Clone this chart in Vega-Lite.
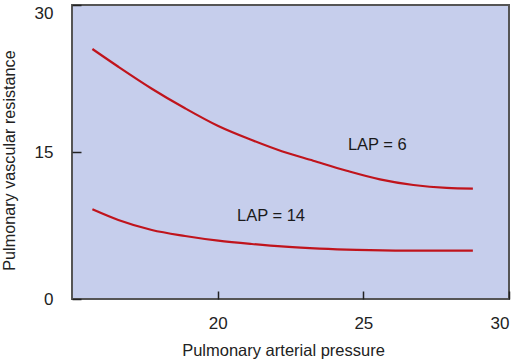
{
  "$schema": "https://vega.github.io/schema/vega-lite/v6.json",
  "width": 437,
  "height": 294,
  "autosize": {"type": "none"},
  "padding": {"left": 72, "top": 5, "right": 9, "bottom": 62},
  "background": "white",
  "config": {
    "view": {"fill": "#c6ceec", "stroke": "#555555", "strokeWidth": 2},
    "font": "Liberation Sans"
  },
  "datasets": {
    "curves": [
      {"lap": "6", "pap": 15.70, "pvr": 25.51},
      {"lap": "6", "pap": 16.59, "pvr": 23.70},
      {"lap": "6", "pap": 17.74, "pvr": 21.46},
      {"lap": "6", "pap": 18.88, "pvr": 19.46},
      {"lap": "6", "pap": 20.02, "pvr": 17.65},
      {"lap": "6", "pap": 21.17, "pvr": 16.22},
      {"lap": "6", "pap": 22.20, "pvr": 15.08},
      {"lap": "6", "pap": 23.28, "pvr": 14.11},
      {"lap": "6", "pap": 24.43, "pvr": 13.09},
      {"lap": "6", "pap": 25.57, "pvr": 12.21},
      {"lap": "6", "pap": 26.72, "pvr": 11.63},
      {"lap": "6", "pap": 27.86, "pvr": 11.33},
      {"lap": "6", "pap": 28.76, "pvr": 11.26},
      {"lap": "14", "pap": 15.70, "pvr": 9.15},
      {"lap": "14", "pap": 16.59, "pvr": 8.06},
      {"lap": "14", "pap": 17.74, "pvr": 7.04},
      {"lap": "14", "pap": 18.88, "pvr": 6.43},
      {"lap": "14", "pap": 20.02, "pvr": 5.95},
      {"lap": "14", "pap": 21.17, "pvr": 5.61},
      {"lap": "14", "pap": 22.31, "pvr": 5.34},
      {"lap": "14", "pap": 23.50, "pvr": 5.15},
      {"lap": "14", "pap": 24.77, "pvr": 5.02},
      {"lap": "14", "pap": 26.50, "pvr": 4.94},
      {"lap": "14", "pap": 28.76, "pvr": 4.93}
    ],
    "labels": [
      {"text": "LAP = 6", "pap": 25.48, "pvr": 15.7},
      {"text": "LAP = 14", "pap": 21.83, "pvr": 8.47}
    ]
  },
  "layer": [
    {
      "data": {"name": "curves"},
      "mark": {"type": "line", "color": "#c0141c", "strokeWidth": 2.2, "interpolate": "monotone"},
      "encoding": {
        "x": {
          "field": "pap", "type": "quantitative",
          "scale": {"domain": [15, 30], "nice": false},
          "axis": {
            "title": "Pulmonary arterial pressure",
            "values": [20, 25, 30],
            "grid": false, "domain": false, "zindex": 1,
            "offset": -8,
            "tickSize": 8, "tickColor": "#222222", "tickWidth": 1.5,
            "labelPadding": 16, "labelFontSize": 17, "labelColor": "#222222",
            "labelFont": "Liberation Sans",
            "titleFontSize": 16.5, "titleFontWeight": "normal", "titleColor": "#222222",
            "titleFont": "Liberation Sans", "titleX": 211, "titleY": 59, "titleBaseline": "middle"
          }
        },
        "y": {
          "field": "pvr", "type": "quantitative",
          "scale": {"domain": [0, 30], "nice": false},
          "axis": {
            "title": "Pulmonary vascular resistance",
            "values": [0, 15, 30],
            "grid": false, "domain": false, "zindex": 1,
            "offset": -9,
            "tickSize": 9, "tickColor": "#222222", "tickWidth": 1.5,
            "labelPadding": 19, "labelFontSize": 17, "labelColor": "#222222",
            "labelFont": "Liberation Sans",
            "labelBaseline": {"condition": {"test": "datum.value == 30", "value": "top"}, "value": "middle"},
            "titleFontSize": 16.2, "titleFontWeight": "normal", "titleColor": "#222222",
            "titleFont": "Liberation Sans", "titleX": -72, "titleY": 155, "titleBaseline": "middle"
          }
        },
        "detail": {"field": "lap"}
      }
    },
    {
      "data": {"name": "labels"},
      "mark": {"type": "text", "fontSize": 16.5, "color": "#1a1a1a", "font": "Liberation Sans", "align": "center", "baseline": "middle"},
      "encoding": {
        "x": {"field": "pap", "type": "quantitative"},
        "y": {"field": "pvr", "type": "quantitative"},
        "text": {"field": "text"}
      }
    }
  ]
}
